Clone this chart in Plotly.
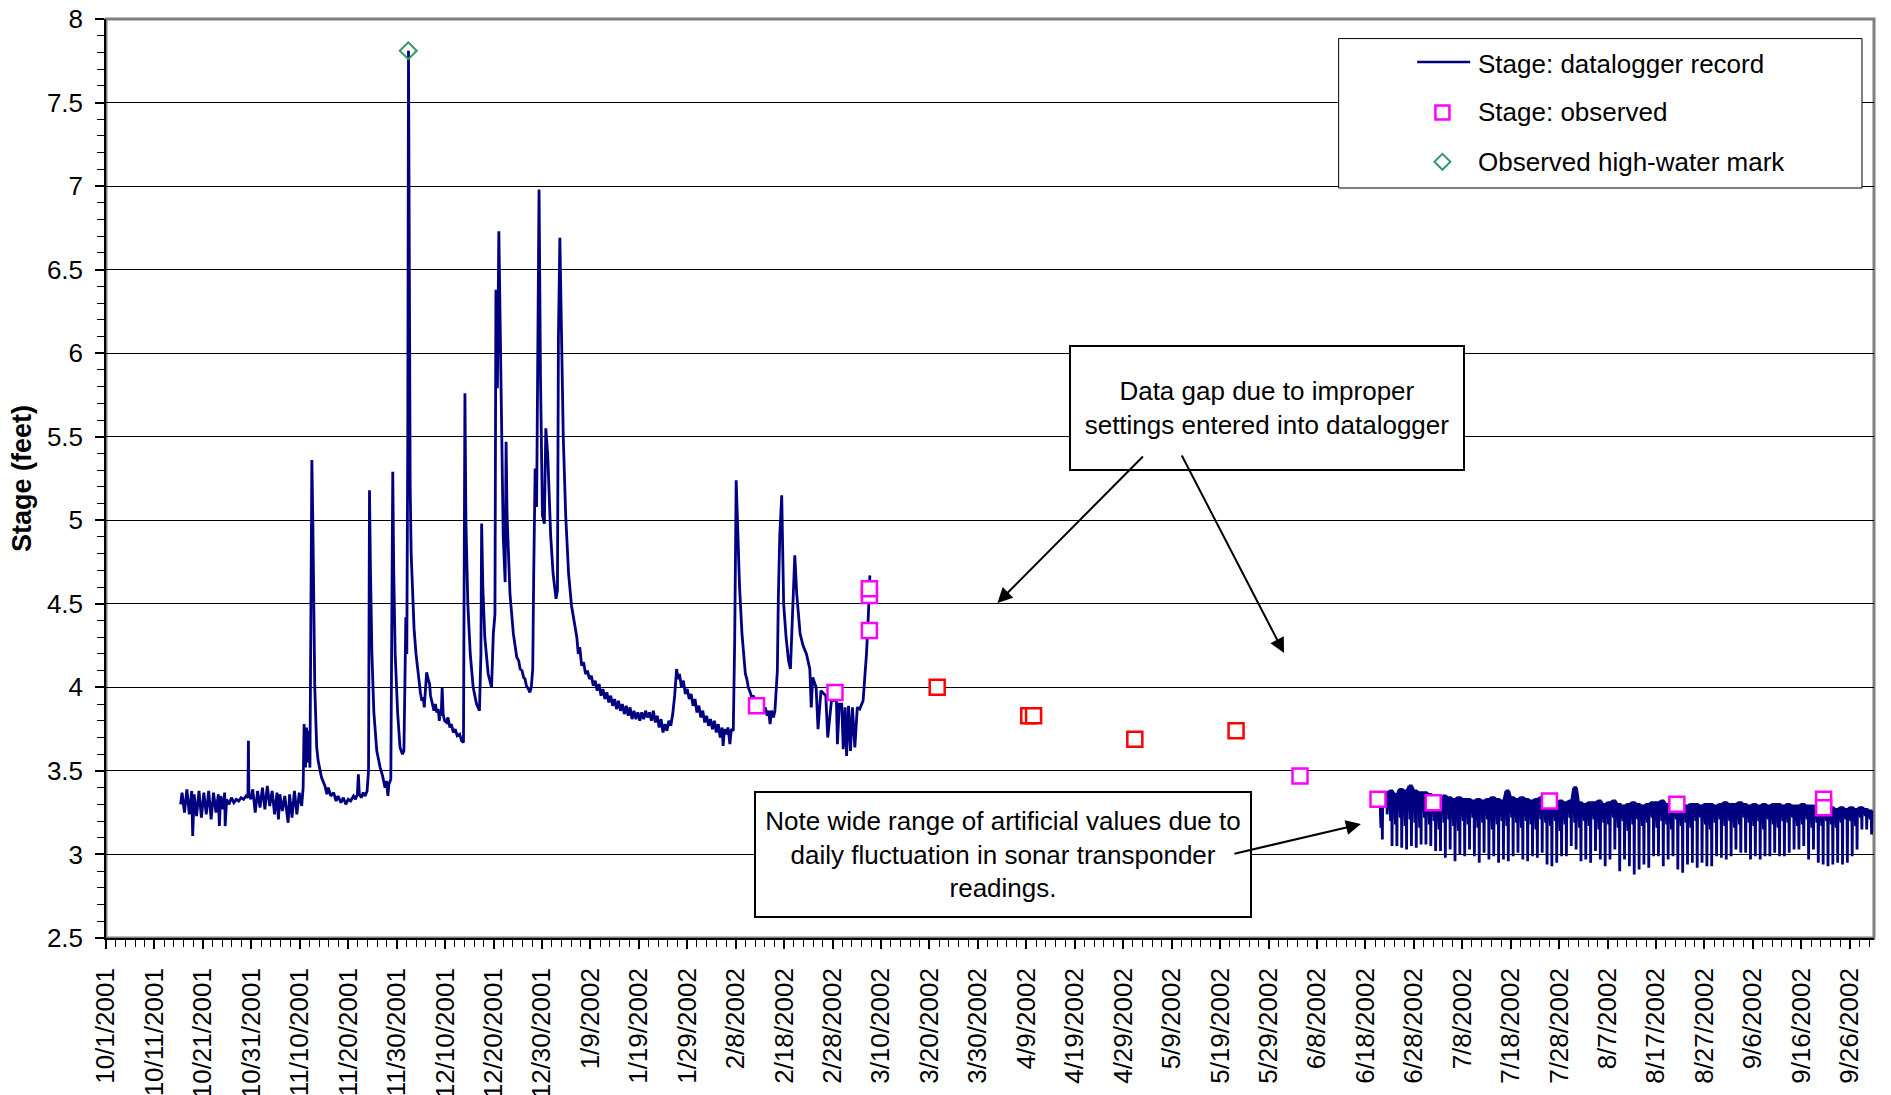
import numpy as np
import pandas as pd
import plotly.graph_objects as go

# Record start; all times below are days after this date
BASE = pd.Timestamp("2001-10-01")

# Fall low-flow record (day, stage in feet)
fall_day = [15.4, 15.7, 16.2, 16.7, 17.2, 17.7, 17.9, 18.2, 18.7, 19.2, 19.7, 20.2, 20.7, 21.2,
            21.7, 22.2, 22.7, 23.2, 23.4, 23.7, 24.2, 24.5, 24.6, 24.9, 25.4, 25.9, 26.4, 26.9,
            27.4, 27.9, 28.4, 28.9, 29.3, 29.4, 29.5, 29.9, 30.3, 30.8, 31.3, 31.8, 32.3, 32.8,
            33.3, 33.8, 34.3, 34.8, 35.3, 35.6, 35.9, 36.4, 36.9, 37.4, 37.6, 37.9, 38.4, 38.9,
            39.4, 39.9, 40.4]
fall_stage = [3.30, 3.37, 3.25, 3.39, 3.24, 3.38, 3.11, 3.36, 3.23, 3.38, 3.22, 3.37, 3.24, 3.38,
              3.21, 3.37, 3.25, 3.36, 3.17, 3.35, 3.27, 3.37, 3.17, 3.33, 3.30, 3.34, 3.31, 3.33,
              3.32, 3.34, 3.33, 3.35, 3.34, 3.68, 3.36, 3.33, 3.39, 3.25, 3.38, 3.28, 3.40, 3.27,
              3.41, 3.29, 3.38, 3.24, 3.37, 3.21, 3.36, 3.26, 3.35, 3.24, 3.19, 3.36, 3.22, 3.38,
              3.24, 3.37, 3.29]

# Storm season record, November through early March
storm_day = [40.7, 40.9, 41.2, 41.4, 41.6, 41.8, 42.1, 42.3, 42.5, 42.7, 42.9, 43.1, 43.5, 43.8,
             44.5, 45.2, 45.6, 45.9, 46.4, 47.0, 47.5, 47.9, 48.5, 49.0, 49.5, 50.0, 50.5, 51.1,
             51.5, 51.9, 52.1, 52.3, 52.7, 53.1, 53.5, 53.9, 54.2, 54.4, 54.6, 54.9, 55.3, 55.9,
             56.6, 57.1, 57.6, 57.9, 58.2, 58.4, 58.8, 58.9, 59.2, 59.4, 59.7, 60.2, 60.7, 61.2,
             61.5, 61.7, 61.9, 62.1, 62.3, 62.45, 62.6, 62.8, 63.0, 63.3, 63.6, 64.0, 64.5, 64.9,
             65.2, 65.5, 65.7, 66.0, 66.2, 66.5, 66.8, 67.0, 67.2, 67.5, 67.7, 68.0, 68.3, 68.6,
             68.8, 69.0, 69.2, 69.4, 69.6, 69.9, 70.3, 70.6, 71.0, 71.3, 71.7, 72.1, 72.5, 73.0,
             73.4, 73.8, 74.0, 74.1, 74.3, 74.7, 75.2, 75.8, 76.5, 77.1, 77.4, 77.55, 77.8, 78.2,
             78.9, 79.6, 79.96, 80.3, 80.5, 80.8, 81.1, 81.3, 81.7, 82.0, 82.4, 82.6, 82.8, 83.4,
             84.1, 84.5, 84.8, 85.2, 85.5, 85.9, 86.2, 86.5, 86.8, 87.2, 87.5, 87.8, 88.1, 88.3,
             88.6, 88.9, 89.3, 89.4, 89.7, 90.1, 90.5, 90.8, 91.2, 91.5, 91.8, 92.3, 92.9, 93.2,
             93.4, 93.7, 94.1, 94.4, 94.9, 95.5, 96.1, 96.5, 96.8, 97.2, 97.5, 97.8, 98.2, 98.6,
             99.0, 99.4, 99.8, 100.2, 100.6, 101.0, 101.4, 101.8, 102.2, 102.6, 103.0, 103.4, 103.8,
             104.2, 104.6, 105.0, 105.4, 105.8, 106.2, 106.6, 107.0, 107.4, 107.8, 108.2, 108.6,
             109.0, 109.4, 109.8, 110.2, 110.6, 111.0, 111.4, 111.8, 112.2, 112.6, 113.0, 113.4,
             113.8, 114.2, 114.6, 115.0, 115.4, 115.8, 116.2, 116.6, 117.0, 117.4, 117.8, 118.1,
             118.4, 118.8, 119.2, 119.6, 120.0, 120.4, 120.8, 121.2, 121.6, 122.0, 122.4, 122.8,
             123.2, 123.6, 124.0, 124.4, 124.8, 125.2, 125.6, 126.0, 126.4, 126.8, 127.2, 127.4,
             127.7, 128.1, 128.4, 128.8, 129.1, 129.5, 129.8, 130.1, 130.4, 130.8, 131.3, 131.7,
             132.0, 132.3, 132.6, 133.0, 133.3, 133.7, 134.0, 134.4, 134.8, 135.2, 135.7, 136.1,
             136.5, 136.8, 137.1, 137.4, 137.8, 138.1, 138.6, 138.8, 139.1, 139.5, 139.7, 139.9,
             140.4, 140.9, 141.3, 141.7, 142.2, 142.6, 143.3, 143.9, 144.6, 145.3, 145.6, 145.9,
             146.6, 147.0, 147.6, 148.6, 149.0, 149.8, 150.8, 151.0, 151.4, 151.9, 152.2, 152.6,
             152.9, 153.3, 153.7, 154.1, 154.6, 155.1, 155.6, 156.3, 156.7, 157.0, 157.4, 157.7]
storm_stage = [3.40, 3.78, 3.52, 3.76, 3.55, 3.74, 3.52, 4.50, 5.36, 5.00, 4.40, 4.00, 3.64, 3.56,
               3.46, 3.41, 3.36, 3.40, 3.35, 3.37, 3.32, 3.35, 3.31, 3.34, 3.30, 3.33, 3.32, 3.35,
               3.33, 3.36, 3.48, 3.36, 3.34, 3.37, 3.35, 3.38, 3.50, 5.18, 4.70, 4.20, 3.85, 3.62,
               3.52, 3.47, 3.40, 3.44, 3.35, 3.42, 3.45, 4.05, 5.29, 4.70, 4.20, 3.85, 3.64, 3.60,
               3.62, 4.00, 4.42, 4.20, 5.50, 7.81, 6.50, 5.20, 4.80, 4.50, 4.35, 4.20, 4.05, 3.97,
               3.92, 3.94, 3.88, 4.00, 4.09, 4.05, 4.02, 3.95, 3.92, 3.89, 3.86, 3.90, 3.85, 3.87,
               3.80, 3.85, 3.83, 4.00, 3.84, 3.80, 3.79, 3.82, 3.76, 3.78, 3.73, 3.75, 3.71, 3.72,
               3.68, 3.67, 4.80, 5.76, 5.00, 4.50, 4.20, 4.00, 3.90, 3.86, 4.20, 4.98, 4.60, 4.30,
               4.08, 4.00, 4.32, 4.44, 6.38, 5.79, 6.73, 6.33, 5.50, 4.91, 4.63, 5.47, 5.03, 4.56,
               4.32, 4.25, 4.18, 4.16, 4.11, 4.10, 4.06, 4.05, 4.01, 3.99, 3.97, 4.00, 4.11, 4.68,
               5.31, 5.08, 6.33, 6.98, 5.86, 5.03, 4.98, 5.55, 5.39, 5.15, 4.91, 4.68, 4.53, 4.58,
               6.09, 6.69, 6.09, 5.50, 5.03, 4.68, 4.49, 4.42, 4.39, 4.30, 4.20, 4.24, 4.13, 4.15,
               4.08, 4.10, 4.05, 4.07, 4.01, 4.04, 3.98, 4.02, 3.95, 3.99, 3.93, 3.97, 3.91,
               3.95, 3.89, 3.93, 3.87, 3.92, 3.86, 3.90, 3.84, 3.89, 3.83, 3.88, 3.81,
               3.86, 3.81, 3.85, 3.80, 3.85, 3.81, 3.86, 3.82, 3.85, 3.80, 3.86, 3.79,
               3.83, 3.76, 3.81, 3.73, 3.78, 3.74, 3.80, 3.77, 3.84, 3.95, 4.11, 4.05,
               4.08, 4.00, 4.04, 3.96, 3.99, 3.93, 3.96, 3.89, 3.93, 3.85, 3.89, 3.82,
               3.86, 3.79, 3.83, 3.77, 3.81, 3.75, 3.80, 3.73, 3.78, 3.70, 3.76, 3.65,
               3.75, 3.72, 3.76, 3.66, 3.75, 3.74, 4.30, 5.24, 4.90, 4.60, 4.32, 4.15,
               4.08, 4.05, 4.00, 3.97, 3.94, 3.95, 3.89, 3.91, 3.86, 3.89, 3.85, 3.88,
               3.83, 3.86, 3.78, 3.86, 3.82, 3.86, 4.10, 4.53, 4.91, 5.15, 4.80, 4.50,
               4.30, 4.16, 4.11, 4.44, 4.79, 4.56, 4.32, 4.25, 4.20, 4.11, 3.88, 4.06,
               4.00, 3.75, 3.98, 3.95, 3.70, 3.93, 3.92, 3.66, 3.90, 3.90, 3.63, 3.88,
               3.59, 3.89, 3.62, 3.88, 3.64, 3.88, 3.87, 3.92, 4.08, 4.20, 4.44, 4.67]

# Summer record after the logger was reset, from 6/21/2002: daily high, the smaller
# mid-day dip and the deep daily sonar dip
summer_first_day = 263
summer_high = [3.35, 3.37, 3.38, 3.36, 3.39, 3.38, 3.41, 3.38, 3.37, 3.37, 3.36, 3.34, 3.33, 3.35,
               3.34, 3.33, 3.34, 3.33, 3.33, 3.32, 3.33, 3.32, 3.33, 3.34, 3.33, 3.32, 3.38, 3.34,
               3.33, 3.34, 3.33, 3.32, 3.33, 3.34, 3.33, 3.32, 3.31, 3.32, 3.31, 3.32, 3.40, 3.31,
               3.30, 3.31, 3.31, 3.32, 3.30, 3.31, 3.32, 3.30, 3.29, 3.30, 3.31, 3.30, 3.29, 3.30,
               3.31, 3.31, 3.32, 3.30, 3.29, 3.30, 3.30, 3.29, 3.30, 3.30, 3.29, 3.30, 3.30, 3.29,
               3.30, 3.31, 3.30, 3.30, 3.31, 3.30, 3.29, 3.30, 3.29, 3.30, 3.29, 3.30, 3.30, 3.29,
               3.30, 3.29, 3.29, 3.30, 3.29, 3.29, 3.28, 3.29, 3.28, 3.28, 3.27, 3.28, 3.27, 3.28,
               3.27, 3.28, 3.27, 3.26]
summer_mid = [3.16, 3.30, 3.20, 3.18, 3.22, 3.17, 3.21, 3.19, 3.16, 3.22, 3.18, 3.20, 3.15, 3.19,
              3.21, 3.17, 3.14, 3.20, 3.18, 3.22, 3.16, 3.19, 3.21, 3.15, 3.18, 3.20, 3.17, 3.22,
              3.19, 3.16, 3.20, 3.18, 3.15, 3.21, 3.19, 3.17, 3.20, 3.14, 3.18, 3.22, 3.19, 3.16,
              3.20, 3.17, 3.21, 3.15, 3.19, 3.18, 3.22, 3.16, 3.20, 3.14, 3.18, 3.21, 3.17, 3.19,
              3.22, 3.16, 3.20, 3.18, 3.15, 3.21, 3.17, 3.19, 3.16, 3.20, 3.22, 3.18, 3.15, 3.19,
              3.21, 3.17, 3.20, 3.16, 3.18, 3.22, 3.19, 3.17, 3.20, 3.15, 3.21, 3.18, 3.16, 3.20,
              3.19, 3.22, 3.17, 3.18, 3.21, 3.16, 3.19, 3.17, 3.20, 3.18, 3.16, 3.19, 3.21, 3.20,
              3.17, 3.22, 3.23, 3.21]
summer_low = [3.09, 3.24, 3.05, 3.05, 3.04, 3.03, 3.05, 3.04, 3.06, 3.06, 3.05, 3.02, 3.02, 2.98,
              3.03, 2.96, 3.00, 2.99, 3.03, 2.99, 2.95, 3.01, 2.97, 2.99, 2.95, 2.97, 2.96, 2.99,
              3.01, 2.97, 2.96, 2.99, 2.98, 3.01, 2.94, 2.93, 2.95, 2.99, 2.99, 3.05, 3.03, 2.96,
              2.97, 2.95, 3.02, 2.97, 2.93, 2.97, 3.03, 2.90, 2.97, 2.93, 2.88, 2.91, 2.94, 2.92,
              2.99, 2.99, 2.93, 2.97, 2.99, 2.91, 2.89, 2.94, 2.95, 2.92, 2.95, 2.93, 2.93, 2.99,
              2.98, 2.97, 2.99, 3.03, 3.01, 3.01, 2.97, 2.99, 2.97, 2.99, 2.99, 3.01, 2.99, 2.99,
              3.01, 3.03, 3.03, 3.05, 2.97, 3.03, 2.95, 2.94, 2.93, 2.94, 2.95, 2.94, 2.95, 2.99,
              3.03, 3.15, 3.15, 3.12]

# Observed stage (staff gage readings)
obs_day = [134.3, 150.5, 157.6, 157.6, 157.6, 246.5, 262.6, 274.0, 298.0, 324.3, 354.6, 354.6]
obs_stage = [3.89, 3.97, 4.34, 4.55, 4.59, 3.47, 3.33, 3.31, 3.32, 3.30, 3.33, 3.28]
# Observed stage during the logger outage
gap_obs_day = [171.6, 190.5, 191.5, 212.4, 233.3]
gap_obs_stage = [4.00, 3.83, 3.83, 3.69, 3.74]
# Observed high-water mark
hwm_day = [62.4]
hwm_stage = [7.81]

NAVY = "#000080"
MAGENTA = "#FF00FF"
RED = "#FF0000"
GREEN = "#339966"
FONT = "Liberation Sans, Arial, Helvetica, sans-serif"


def to_time(days):
    return BASE + pd.to_timedelta(np.asarray(days, dtype=float), unit="D")


# Summer days: logger sits near the daily high, with a smaller and a sharp sonar dip per day
summer_day, summer_stage = [], []
for k, (hi, mid, lo) in enumerate(zip(summer_high, summer_mid, summer_low)):
    d = summer_first_day + k
    summer_day += [d, d + 0.2, d + 0.25, d + 0.42, d + 0.5, d + 0.58]
    summer_stage += [hi, mid, hi, hi, lo, hi]

# Break the line over the datalogger gap
rec_day = fall_day + storm_day + [200.0] + summer_day
rec_stage = fall_stage + storm_stage + [None] + summer_stage

fig = go.Figure()
fig.add_trace(go.Scatter(
    x=to_time(rec_day), y=rec_stage, mode="lines", name="Stage: datalogger record",
    line=dict(color=NAVY, width=2.8), connectgaps=False))
fig.add_trace(go.Scatter(
    x=to_time(gap_obs_day), y=gap_obs_stage, mode="markers", name="Stage: observed (logger gap)",
    marker=dict(symbol="square", size=15, color="white", line=dict(color=RED, width=2.5))))
fig.add_trace(go.Scatter(
    x=to_time(obs_day), y=obs_stage, mode="markers", name="Stage: observed",
    marker=dict(symbol="square", size=15, color="white", line=dict(color=MAGENTA, width=2.5))))
fig.add_trace(go.Scatter(
    x=to_time(hwm_day), y=hwm_stage, mode="markers", name="Observed high-water mark",
    marker=dict(symbol="diamond-open", size=13, color=GREEN, line=dict(color=GREEN, width=2))))

x_range = [BASE, BASE + pd.Timedelta(days=365)]
TEN_DAYS = 10 * 86400000
TWO_DAYS = 2 * 86400000

fig.update_layout(
    template="none",
    width=1891, height=1095,
    margin=dict(l=106, r=17, t=19, b=157),
    plot_bgcolor="white", paper_bgcolor="white",
    showlegend=False,
    font=dict(family=FONT, size=26, color="black"),
    xaxis=dict(
        type="date", range=x_range, tick0="2001-10-01", dtick=TEN_DAYS,
        tickformat="%-m/%-d/%Y", tickangle=-90,
        ticks="outside", ticklen=9, tickwidth=1.5, tickcolor="black",
        ticklabelstandoff=9,
        showgrid=False, zeroline=False, automargin=False,
        showline=True, linecolor="black", linewidth=1.5,
        minor=dict(tick0="2001-10-01", dtick=TWO_DAYS, ticks="outside", ticklen=7,
                   tickwidth=1, tickcolor="black", showgrid=False),
    ),
    xaxis2=dict(
        type="date", range=x_range, overlaying="x", anchor="y", side="bottom",
        tick0="2001-10-01", dtick=TEN_DAYS, ticks="inside", ticklen=8, tickwidth=1.5,
        tickcolor="black", showticklabels=False, showgrid=False, showline=False,
        zeroline=False, automargin=False,
    ),
    yaxis=dict(
        range=[2.5, 8], tick0=0, dtick=0.5,
        ticks="outside", ticklen=9, tickwidth=1.5, tickcolor="black",
        ticklabelstandoff=7,
        showgrid=True, gridcolor="black", gridwidth=1,
        zeroline=False, automargin=False,
        showline=True, linecolor="black", linewidth=1.5,
        minor=dict(dtick=0.1, ticks="outside", ticklen=7, tickwidth=1, tickcolor="black",
                   showgrid=False),
        title=dict(text="<b>Stage (feet)</b>", standoff=7,
                   font=dict(family=FONT, size=27, color="black")),
    ),
)

shapes = [
    # plot-area frame
    dict(type="rect", xref="paper", yref="paper", x0=0, x1=1, y0=0, y1=1,
         line=dict(color="#808080", width=3), layer="between"),
    # legend box
    dict(type="rect", xref="paper", yref="paper", x0=0.6972, x1=0.9932, y0=0.8161, y1=0.9787,
         line=dict(color="black", width=1), fillcolor="white", layer="above"),
    dict(type="line", xref="paper", yref="paper", x0=0.7416, x1=0.7716, y0=0.9532, y1=0.9532,
         line=dict(color=NAVY, width=2.5), layer="above"),
    dict(type="rect", xref="paper", yref="paper", xsizemode="pixel", ysizemode="pixel",
         xanchor=0.7559, yanchor=0.8983, x0=-7, x1=7, y0=-7, y1=7,
         line=dict(color=MAGENTA, width=2.5), fillcolor="white", layer="above"),
    dict(type="path", xref="paper", yref="paper", xsizemode="pixel", ysizemode="pixel",
         xanchor=0.7559, yanchor=0.8446, path="M0,-8 L8,0 L0,8 L-8,0 Z",
         line=dict(color=GREEN, width=2), fillcolor="white", layer="above"),
]

legend_labels = ["Stage: datalogger record", "Stage: observed", "Observed high-water mark"]
legend_y = [0.9510, 0.8983, 0.8446]
annotations = [
    dict(xref="paper", yref="paper", x=0.7749, y=yy, xanchor="left", yanchor="middle",
         text=t, showarrow=False, font=dict(family=FONT, size=26, color="black"))
    for t, yy in zip(legend_labels, legend_y)
]
annotations += [
    dict(xref="paper", yref="paper", x=0.6567, y=0.5767, xanchor="center", yanchor="middle",
         text="Data gap due to improper<br>settings entered into datalogger",
         showarrow=False, width=392, height=122, align="center", valign="middle",
         bgcolor="white", bordercolor="black", borderwidth=2, borderpad=0,
         font=dict(family=FONT, size=26, color="black")),
    dict(xref="paper", yref="paper", x=0.5072, y=0.0912, xanchor="center", yanchor="middle",
         text="Note wide range of artificial values due to<br>daily fluctuation in sonar transponder<br>readings.",
         showarrow=False, width=494, height=123, align="center", valign="middle",
         bgcolor="white", bordercolor="black", borderwidth=2, borderpad=0,
         font=dict(family=FONT, size=26, color="black")),
]
# callout arrows
for hx, hy, ax, ay in [(0.5042, 0.3645, 147, -148), (0.6663, 0.3101, -103, -199),
                       (0.7098, 0.1240, -128, 30)]:
    annotations.append(dict(xref="paper", yref="paper", x=hx, y=hy, ax=ax, ay=ay, text="",
                            showarrow=True, arrowhead=2, arrowsize=1.5, arrowwidth=2,
                            arrowcolor="black", standoff=0))

fig.update_layout(shapes=shapes, annotations=annotations)

fig.write_html("out.html")
